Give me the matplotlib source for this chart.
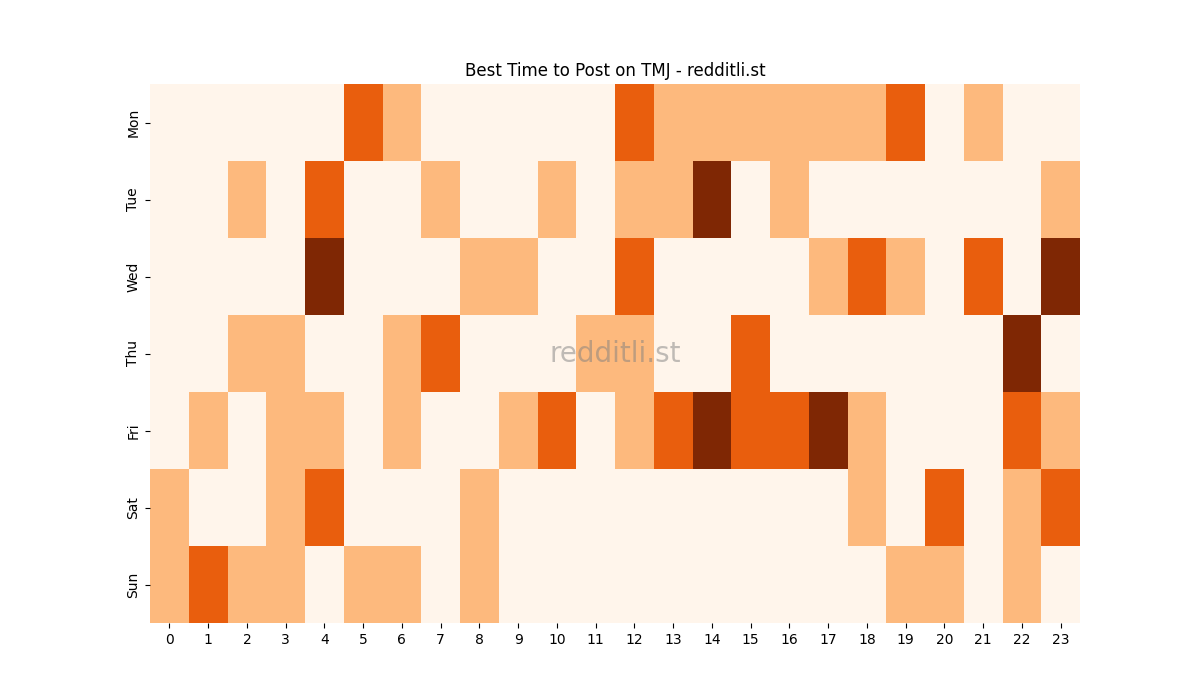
import numpy as np
import matplotlib
matplotlib.use("Agg")
import matplotlib.pyplot as plt

days = ["Mon", "Tue", "Wed", "Thu", "Fri", "Sat", "Sun"]
hours = list(range(24))

# activity level per hour (0-3)
mon = [0, 0, 0, 0, 0, 2, 1, 0, 0, 0, 0, 0, 2, 1, 1, 1, 1, 1, 1, 2, 0, 1, 0, 0]
tue = [0, 0, 1, 0, 2, 0, 0, 1, 0, 0, 1, 0, 1, 1, 3, 0, 1, 0, 0, 0, 0, 0, 0, 1]
wed = [0, 0, 0, 0, 3, 0, 0, 0, 1, 1, 0, 0, 2, 0, 0, 0, 0, 1, 2, 1, 0, 2, 0, 3]
thu = [0, 0, 1, 1, 0, 0, 1, 2, 0, 0, 0, 1, 1, 0, 0, 2, 0, 0, 0, 0, 0, 0, 3, 0]
fri = [0, 1, 0, 1, 1, 0, 1, 0, 0, 1, 2, 0, 1, 2, 3, 2, 2, 3, 1, 0, 0, 0, 2, 1]
sat = [1, 0, 0, 1, 2, 0, 0, 0, 1, 0, 0, 0, 0, 0, 0, 0, 0, 0, 1, 0, 2, 0, 1, 2]
sun = [1, 2, 1, 1, 0, 1, 1, 0, 1, 0, 0, 0, 0, 0, 0, 0, 0, 0, 0, 1, 1, 0, 1, 0]

data = np.array([mon, tue, wed, thu, fri, sat, sun])

fig, ax = plt.subplots(figsize=(12, 7), dpi=100)
ax.pcolormesh(data, cmap="Oranges", vmin=0, vmax=3)
ax.set_xlim(0, 24)
ax.set_ylim(7, 0)
ax.set_xticks(np.arange(24) + 0.5)
ax.set_xticklabels(hours)
ax.set_yticks(np.arange(7) + 0.5)
ax.set_yticklabels(days, rotation=90, va="center")
for s in ax.spines.values():
    s.set_visible(False)
ax.set_title("Best Time to Post on TMJ - redditli.st")

# watermark
ax.text(0.5, 0.5, "redditli.st", transform=ax.transAxes, ha="center", va="center",
        fontsize=20, color="grey", alpha=0.5)

fig.savefig("out.png")
